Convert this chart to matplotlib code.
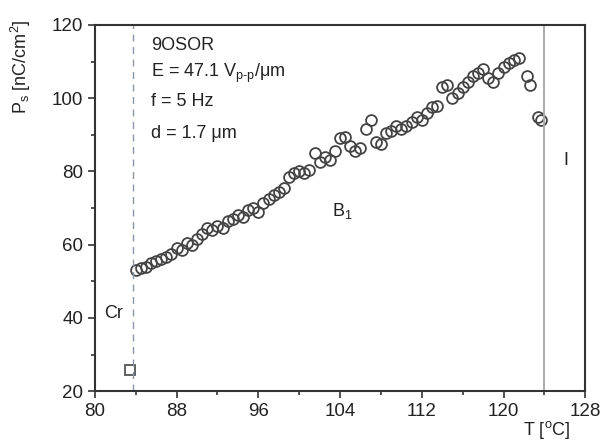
import matplotlib
matplotlib.use("Agg")
import matplotlib.pyplot as plt
from matplotlib.ticker import MultipleLocator

plt.rcParams['font.family'] = ['Liberation Sans', 'DejaVu Sans']
plt.rcParams['mathtext.fontset'] = 'custom'
plt.rcParams['mathtext.rm'] = 'Liberation Sans'
plt.rcParams['mathtext.it'] = 'Liberation Sans:italic'
plt.rcParams['mathtext.bf'] = 'Liberation Sans:bold'

# Data
T_cr = [83.4]
P_cr = [25.8]

T_b1 = [84.0, 84.5, 85.0, 85.5, 86.0, 86.5, 87.0, 87.5, 88.0, 88.5,
        89.0, 89.5, 90.0, 90.5, 91.0, 91.5, 92.0, 92.5, 93.0, 93.5,
        94.0, 94.5, 95.0, 95.5, 96.0, 96.5, 97.0, 97.5, 98.0, 98.5,
        99.0, 99.5, 100.0, 100.5, 101.0, 101.5, 102.0, 102.5, 103.0, 103.5,
        104.0, 104.5, 105.0, 105.5, 106.0, 106.5, 107.0, 107.5, 108.0, 108.5,
        109.0, 109.5, 110.0, 110.5, 111.0, 111.5, 112.0, 112.5, 113.0, 113.5,
        114.0, 114.5, 115.0, 115.5, 116.0, 116.5, 117.0, 117.5, 118.0, 118.5,
        119.0, 119.5, 120.0, 120.5, 121.0, 121.5, 122.3, 122.6, 123.4, 123.7]
P_b1 = [53.0, 53.5, 54.0, 55.0, 55.5, 56.0, 56.5, 57.5, 59.0, 58.5,
        60.5, 60.0, 61.5, 63.0, 64.5, 64.0, 65.0, 64.5, 66.5, 67.0,
        68.0, 67.5, 69.5, 70.0, 69.0, 71.5, 72.5, 73.5, 74.5, 75.5,
        78.5, 79.5, 80.0, 79.5, 80.5, 85.0, 82.5, 84.0, 83.0, 85.5,
        89.0, 89.5, 87.0, 85.5, 86.5, 91.5, 94.0, 88.0, 87.5, 90.5,
        91.0, 92.5, 91.5, 92.5, 93.5, 95.0, 94.0, 96.0, 97.5, 98.0,
        103.0, 103.5, 100.0, 101.5, 103.0, 104.5, 106.0, 107.0, 108.0, 105.5,
        104.5, 107.0, 108.5, 109.5, 110.5, 111.0, 106.0, 103.5, 95.0, 94.0]

T_cr_b1 = 83.7
T_b1_iso = 124.0

x_ticks = [80, 88, 96, 104, 112, 120, 128]
y_ticks = [20, 40, 60, 80, 100, 120]

fig = plt.figure(figsize=(6.04, 4.46), dpi=100)
ax = fig.add_axes([0.157, 0.123, 0.812, 0.821])

ax.plot(T_cr, P_cr, linestyle='none', marker='s', markersize=6.5,
        markerfacecolor='none', markeredgecolor='#555555', markeredgewidth=1.3)
ax.plot(T_b1, P_b1, linestyle='none', marker='o', markersize=7.8,
        markerfacecolor='none', markeredgecolor='#444444', markeredgewidth=1.3)

ax.axvline(T_cr_b1, color='#8a96a6', linestyle=(0, (5, 4)), linewidth=1.0)
ax.axvline(T_b1_iso, color='#aaaaaa', linestyle='-', linewidth=1.4)

ax.set_xlim(80, 128)
ax.set_ylim(20, 120)
ax.set_xticks(x_ticks)
ax.set_yticks(y_ticks)
ax.xaxis.set_minor_locator(MultipleLocator(4))
ax.yaxis.set_minor_locator(MultipleLocator(10))
ax.tick_params(which='both', direction='out', top=False, right=False,
               colors='#333333', labelcolor='#222222', labelsize=13.5, width=1.2)
ax.tick_params(which='major', length=5)
ax.tick_params(which='minor', length=3)
for s in ax.spines.values():
    s.set_color('#333333')
    s.set_linewidth(1.5)

fig.text(0.035, 0.955, r'P$_\mathrm{s}$ [nC/cm$^2$]', rotation=90, ha='center', va='top',
         fontsize=13, color='#222222')
fig.text(0.905, 0.012, r'T [$^\mathrm{o}$C]', ha='center', va='bottom',
         fontsize=13, color='#222222')

tk = dict(fontsize=13, color='#222222', transform=fig.transFigure, va='center', ha='left')
fig.text(0.25, 0.898, '9OSOR', **tk)
fig.text(0.25, 0.835, 'E = 47.1 V$_\\mathrm{p\u2010p}$/\u03bcm', **tk)
fig.text(0.25, 0.772, 'f = 5 Hz', **tk)
fig.text(0.25, 0.700, 'd = 1.7 \u03bcm', **tk)
fig.text(0.172, 0.297, 'Cr', **tk)
fig.text(0.550, 0.528, r'B$_\mathrm{1}$', **tk)
fig.text(0.932, 0.640, 'I', **tk)

fig.savefig('out.png', dpi=100, facecolor='white')
